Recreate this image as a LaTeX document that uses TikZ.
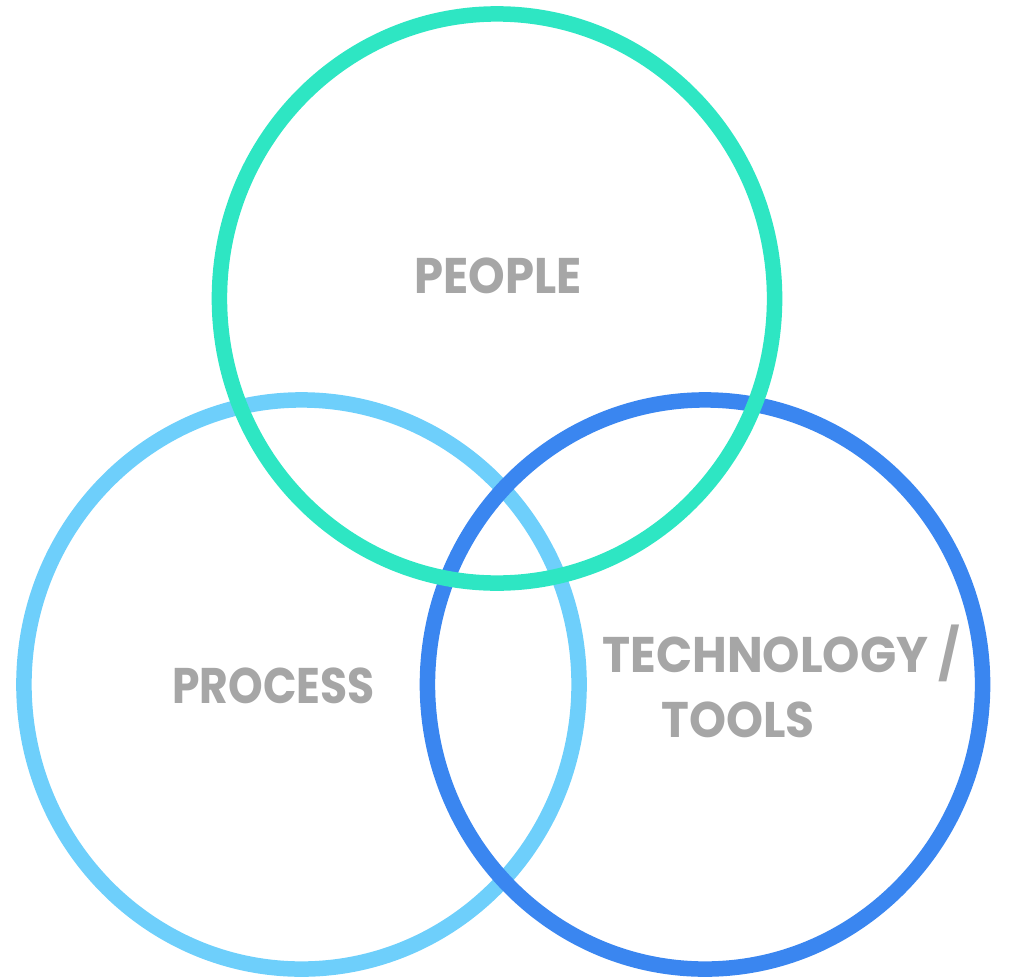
\documentclass[tikz,border=0pt]{standalone}
\usepackage{fontspec}
\usepackage{xcolor}
\usepackage{graphicx}
\usepackage{tikz}
\newfontfamily\lblfont{Poppins}
\newcommand{\squeeze}[2]{\scalebox{#1}[1]{#2}}

\definecolor{peoplegreen}{HTML}{2EE6C3}
\definecolor{processblue}{HTML}{6ECFFB}
\definecolor{techblue}{HTML}{3A86F0}
\definecolor{lblgray}{HTML}{A6A6A6}

\begin{document}
\begin{tikzpicture}[x=0.025cm,y=-0.025cm,
  ring/.style={line width=0.3875cm},
  lbl/.style={anchor=base west,inner sep=0pt,text=lblgray,font=\lblfont\bfseries\fontsize{35.6}{40}\selectfont}]
\useasboundingbox (0,0) rectangle (1010,979);
\draw[ring,processblue] (301.5,684.5) ellipse [x radius=6.9375cm, y radius=7.1125cm];
\draw[ring,techblue] (705,684.5) ellipse [x radius=6.9375cm, y radius=7.1125cm];
\draw[ring,peoplegreen] (497,298.5) ellipse [x radius=6.9375cm, y radius=7.1125cm];
\node[lbl] (people) at (414,293) {\squeeze{0.93}{PEOPLE}};
\node[lbl] (process) at (172,703) {\squeeze{0.88}{PROCESS}};
\node[lbl] (tech) at (602,672) {\squeeze{0.95}{TECHNOLOGY /}};
\node[lbl] (tools) at (661,737) {\squeeze{0.94}{TOOLS}};
\end{tikzpicture}
\end{document}
